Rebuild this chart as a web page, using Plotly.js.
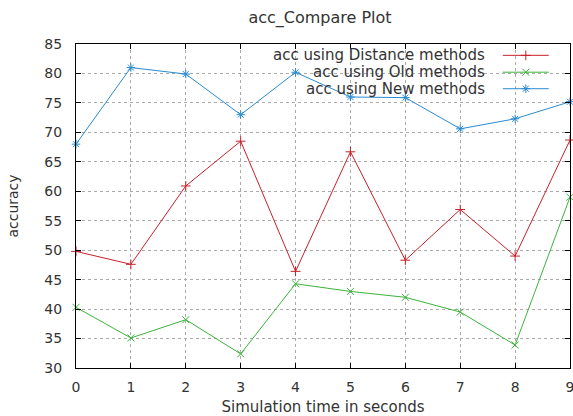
<!DOCTYPE html>
<html>
<head>
<meta charset="utf-8">
<script src="https://cdn.plot.ly/plotly-3.0.1.min.js"></script>
<style>html,body{margin:0;padding:0;background:#fff;}#chart{width:573px;height:416px;}</style>
</head>
<body>
<div id="chart"></div>
<script>
const timeSeconds = [0, 1, 2, 3, 4, 5, 6, 7, 8, 9];
const accDistance = [49.8, 47.6, 60.9, 68.5, 46.4, 66.7, 48.3, 56.9, 49.0, 68.7];
const accOld = [40.3, 35.1, 38.2, 32.4, 44.3, 43.0, 42.0, 39.5, 33.9, 59.0];
const accNew = [68.0, 81.0, 79.9, 73.0, 80.2, 76.0, 75.9, 70.6, 72.3, 75.2];
const seriesNames = ['acc using Distance methods', 'acc using Old methods', 'acc using New methods'];
const xTicks = [0, 1, 2, 3, 4, 5, 6, 7, 8, 9];
const yTicks = [30, 35, 40, 45, 50, 55, 60, 65, 70, 75, 80, 85];

const colors = ['#c8202a', '#3cb43c', '#2a8bd0'];
const symbols = ['cross-thin-open', 'x-thin-open', 'asterisk-open'];
const seriesValues = [accDistance, accOld, accNew];
const FONT = 'DejaVu Sans, sans-serif';
const TXT = '#333333';

const traces = seriesValues.map((vals, i) => ({
  x: timeSeconds, y: vals, type: 'scatter', mode: 'lines+markers',
  name: seriesNames[i], showlegend: false, cliponaxis: false,
  line: {color: colors[i], width: 1},
  marker: {symbol: symbols[i], size: 7, color: colors[i], line: {color: colors[i], width: 1}}
}));

// legend samples (gnuplot-style: text on left, sample on right)
const legY = [0.965, 0.913, 0.862];
const legX0 = 0.864, legX1 = 0.957;
seriesValues.forEach((v, i) => {
  traces.push({
    x: [legX0, legX1], y: [legY[i], legY[i]], xaxis: 'x2', yaxis: 'y2',
    type: 'scatter', mode: 'lines', showlegend: false, hoverinfo: 'skip',
    line: {color: colors[i], width: 1}
  });
  traces.push({
    x: [(legX0 + legX1) / 2], y: [legY[i]], xaxis: 'x2', yaxis: 'y2',
    type: 'scatter', mode: 'markers', showlegend: false, hoverinfo: 'skip',
    marker: {symbol: symbols[i], size: 7, color: colors[i], line: {color: colors[i], width: 1}}
  });
});

const annotations = seriesNames.map((n, i) => ({
  text: n, xref: 'paper', yref: 'paper', x: 0.832, y: legY[i],
  xanchor: 'right', yanchor: 'middle', showarrow: false,
  font: {family: FONT, size: 15, color: TXT}
}));

const layout = {
  width: 573, height: 416,
  margin: {l: 76, r: 3, t: 44, b: 48, pad: 0},
  paper_bgcolor: '#ffffff', plot_bgcolor: '#ffffff',
  showlegend: false,
  title: {text: 'acc_Compare Plot', xref: 'container', yref: 'container',
          x: 0.5585, xanchor: 'center', y: 0.957, yanchor: 'middle',
          font: {family: FONT, size: 16, color: TXT}},
  xaxis: {
    range: [0, 9], tickvals: xTicks, ticktext: xTicks.map(String),
    showline: true, linecolor: '#000', linewidth: 1, mirror: 'allticks',
    ticks: 'inside', ticklen: 5, tickcolor: '#000',
    showgrid: true, gridcolor: '#aaaaaa', griddash: 'dot', gridwidth: 1,
    zeroline: false, ticklabeloverflow: 'allow',
    tickfont: {family: FONT, size: 14, color: TXT},
    ticklabelstandoff: 6,
    title: {text: 'Simulation time in seconds', standoff: 11, font: {family: FONT, size: 15, color: TXT}}
  },
  yaxis: {
    range: [30, 85], tickvals: yTicks,
    showline: true, linecolor: '#000', linewidth: 1, mirror: 'allticks',
    ticks: 'inside', ticklen: 5, tickcolor: '#000',
    showgrid: true, gridcolor: '#aaaaaa', griddash: 'dot', gridwidth: 1,
    zeroline: false,
    tickfont: {family: FONT, size: 14, color: TXT},
    ticklabelstandoff: 10,
    title: {text: 'accuracy', standoff: 22, font: {family: FONT, size: 14, color: TXT}}
  },
  xaxis2: {range: [0, 1], overlaying: 'x', visible: false, fixedrange: true},
  yaxis2: {range: [0, 1], overlaying: 'y', visible: false, fixedrange: true},
  annotations: annotations
};

Plotly.newPlot('chart', traces, layout, {staticPlot: true, displayModeBar: false});
</script>
</body>
</html>
